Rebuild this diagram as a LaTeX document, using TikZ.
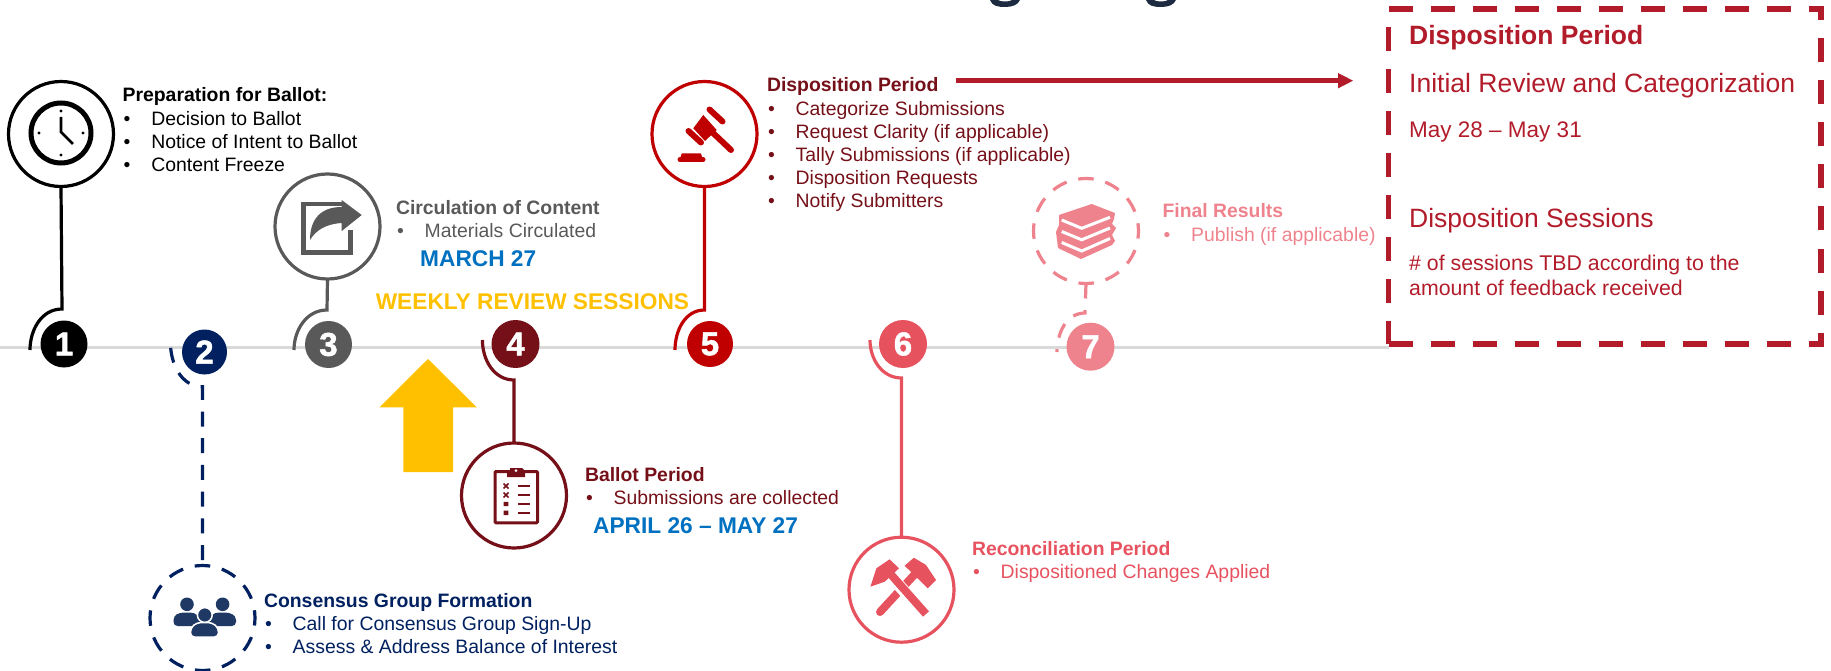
\documentclass[tikz,border=0pt]{standalone}
\usepackage{fontspec}
\setmainfont{Liberation Sans}
\newfontfamily\numfont[BoldFeatures={FakeBold=1.5}]{Liberation Sans}
\definecolor{cGray}{HTML}{595959}
\definecolor{cNavy}{HTML}{002060}
\definecolor{cIcon}{HTML}{1F3864}
\definecolor{cMaroon}{HTML}{751018}
\definecolor{cRed}{HTML}{C00000}
\definecolor{cRose}{HTML}{E7525F}
\definecolor{cPink}{HTML}{EE838D}
\definecolor{cBox}{HTML}{B21C2A}
\definecolor{cBlue}{HTML}{0070C0}
\definecolor{cGold}{HTML}{FFC000}
\definecolor{cRail}{HTML}{D9D9D9}
\definecolor{cTop}{HTML}{1C2B40}
\newcommand{\bodyfont}{\fontsize{19.4}{23.1}\selectfont}
\newcommand{\bul}[1]{\makebox[28.7pt][l]{\hspace{1pt}•}#1}
\newcommand{\blocktext}[1]{\begin{tabular}[t]{@{}l@{}}#1\end{tabular}}
\tikzset{
  bigcircle/.style={circle,draw=#1,line width=3.2pt,minimum size=105pt,inner sep=0pt,outer sep=0pt},
  dashring/.style={dash pattern=on 15.5pt off 12pt,dash phase=7.75pt},
  numcircle/.style={circle,fill=#1,text=white,minimum size=47pt,inner sep=0pt,outer sep=0pt,font=\fontsize{33}{33}\selectfont\numfont\bfseries},
  link/.style={draw=#1,line width=3.2pt},
  dashlink/.style={draw=#1,line width=3.2pt,dash pattern=on 15pt off 11.7pt},
  blocktxt/.style={anchor=base west,inner sep=0pt,outer sep=0pt,font=\bodyfont,text=#1},
  datetxt/.style={anchor=base west,inner sep=0pt,font=\fontsize{22.7}{25}\selectfont\bfseries,text=#1},
  paneltxt/.style={anchor=base west,inner sep=0pt,text=cBox},
}
\begin{document}
\begin{tikzpicture}[x=1pt,y=-1pt]
\useasboundingbox (0,0) rectangle (1831,671);

% cut-off glyph bottoms at the top edge
\fill[cTop] (990,0) .. controls (992,6) and (998,7) .. (1005,7) .. controls (1012,7) and (1018,5) .. (1020,0) -- (1012,0) .. controls (1010,2) and (1000,2) .. (998,0) -- cycle;
\fill[cTop] (1146,0) .. controls (1148,6) and (1154,7) .. (1161,7) .. controls (1168,7) and (1174,5) .. (1176,0) -- (1168,0) .. controls (1166,2) and (1156,2) .. (1154,0) -- cycle;

% rail
\coordinate (railA) at (0,347.5);
\coordinate (railB) at (1389,347.5);
\draw[cRail,line width=3.3pt] (railA) -- (railB);

% number nodes
\node[numcircle=black]  (n1) at (64,344) {1};
\node[numcircle=cNavy,minimum size=45pt]  (n2) at (204.5,352) {2};
\node[numcircle=cGray]  (n3) at (328.5,344.5) {3};
\node[numcircle=cMaroon,minimum size=48pt](n4) at (515.5,344) {4};
\node[numcircle=cRed,minimum size=46pt]   (n5) at (710,344) {5};
\node[numcircle=cRose,minimum size=48pt]  (n6) at (903,344) {6};
\node[numcircle=cPink,minimum size=48pt]  (n7) at (1090.5,346.7) {7};

% big circles
\node[bigcircle=black]   (b1) at (61,134) {};
\node[bigcircle=cNavy,dashring] (b2) at (202.5,618) {};
\node[bigcircle=cGray]   (b3) at (327.5,226.5) {};
\node[bigcircle=cMaroon] (b4) at (514,495.5) {};
\node[bigcircle=cRed]    (b5) at (704.5,134) {};
\node[bigcircle=cRose]   (b6) at (901.5,589.7) {};
\node[bigcircle=cPink,dashring] (b7) at (1086,231) {};

% joints
\coordinate (j1) at (62,309);   \coordinate (e1) at (30,350);
\coordinate (j2) at (202.5,386.7); \coordinate (e2) at (170.4,342);
\coordinate (j3) at (327,310);  \coordinate (e3) at (294,350);
\coordinate (j4) at (514,380);  \coordinate (e4) at (482.4,340);
\coordinate (j5) at (704.5,310);\coordinate (e5) at (675,350);
\coordinate (j6) at (901.5,378);\coordinate (e6) at (870,340);
\coordinate (j7) at (1085,313); \coordinate (e7) at (1057,352);

% connectors
\draw[link=black]   (b1.south) -- (j1) to[out=180,in=90] (e1);
\draw[dashlink=cNavy,dash phase=21.2pt] (b2.north) -- (j2) to[out=180,in=-90] (e2);
\draw[link=cGray]   (b3.south) -- (j3) to[out=180,in=90] (e3);
\draw[link=cMaroon] (b4.north) -- (j4) to[out=180,in=-90] (e4);
\draw[link=cRed]    (b5.south) -- (j5) to[out=180,in=90] (e5);
\draw[link=cRose]   (b6.north) -- (j6) to[out=180,in=-90] (e6);
\draw[dashlink=cPink] (b7.south) -- (j7) to[out=180,in=90] (e7);

% clock icon
\draw[black,line width=5pt] (61,133) circle[radius=30];
\fill[black] (61,111) circle[radius=1.6] (61,155) circle[radius=1.6] (39,133) circle[radius=1.6] (83,133) circle[radius=1.6];
\draw[black,line width=2.8pt] (61,117) -- (61,132) -- (73,144);

% share icon
\draw[cGray,line width=4.5pt] (343,204) -- (303.7,204) -- (303.7,252.7) -- (350.7,252.7) -- (350.7,230);
\fill[cGray] (361.7,215) -- (341.7,200) -- (341.7,207) .. controls (320,207) and (310,220) .. (310,240) .. controls (316,230) and (326,224) .. (341.7,223) -- (341.7,231) -- cycle;

% clipboard icon
\draw[cMaroon,line width=3pt,rounded corners=1pt] (495,471.5) rectangle (537.5,522.8);
\fill[cMaroon] (507,471) -- (510,471) -- (510,468) -- (522,468) -- (525,471) -- (525,477) -- (507,477) -- cycle;
\fill[white] (516,470.7) circle[radius=1.5];
\draw[cMaroon,line width=1.6pt] (503.5,483.5) -- (508.5,488.5) (503.5,488.5) -- (508.5,483.5)
  (503.5,492.5) -- (508.5,497.5) (503.5,497.5) -- (508.5,492.5);
\fill[cMaroon] (503.7,501.8) rectangle (508.3,506.2) (503.7,510.5) rectangle (508.3,515);
\draw[cMaroon,line width=2.2pt] (518,486) -- (530,486) (518,495) -- (530,495) (518,504) -- (530,504) (518,512.7) -- (530,512.7);

% gavel icon
\fill[cRed] (703.3,115) -- (716.7,130) -- (705,141) -- (693.3,128.3) -- cycle;
\draw[cRed,line width=6pt,line cap=round] (709.5,109.5) -- (722.5,121.5);
\draw[cRed,line width=6pt,line cap=round] (688.5,131) -- (701,142.5);
\draw[cRed,line width=6pt,line cap=round] (712,132) -- (731,150);
\fill[cRed] (681.7,153.5) -- (701,153.5) -- (702,157) -- (680.5,157) -- cycle;
\draw[cRed,line width=5pt,line cap=round] (680,159.5) -- (703,159.5);

% hammers icon
\draw[cRose,line width=8pt,line cap=round] (915,574) -- (880,612);
\fill[cRose,line join=round] (913.9,557.7) -- (926,565) -- (936,580) -- (927.8,588.3) -- (904.6,565.7) -- cycle;
\draw[white,line width=12pt] (889.6,575) -- (926,615);
\draw[cRose,line width=8pt] (889.6,573) -- (926,614);
\fill[cRose] (889.6,559.3) -- (899,568.3) -- (884.7,581.7) -- (870.4,586.7) -- (876.4,568.3) -- cycle;

% books icon
\fill[cPink] (1091.7,204) -- (1115,213) -- (1114,219) -- (1112,224) -- (1116,228) -- (1112,235) -- (1115,241) -- (1112,245) -- (1081,259) -- (1058,248) -- (1057,240) -- (1056,232) -- (1059,225) -- (1059,215) -- cycle;
\draw[white,line width=3pt] (1061.7,220) -- (1081.7,228.3) -- (1110,217.3);
\draw[white,line width=3pt] (1061.7,231.5) -- (1081.7,239.8) -- (1110,228);
\draw[white,line width=3pt] (1061.7,242.5) -- (1081.7,251) -- (1110,238.5);

% people icon
\fill[cIcon] (187,604.3) circle[radius=6.8] (222.6,604.3) circle[radius=6.8];
\fill[cIcon,rounded corners=4pt] (173.5,626) -- (173.5,616) -- (180,612.5) -- (194,612.5) -- (201,618) -- (201,626) -- cycle;
\fill[cIcon,rounded corners=4pt] (208,626) -- (208,618) -- (215,612.5) -- (229,612.5) -- (236,616) -- (236,626) -- cycle;
\fill[cIcon,draw=white,line width=1.5pt] (204.8,615) circle[radius=7.4];
\fill[cIcon,draw=white,line width=1.5pt,rounded corners=4pt] (190.5,637) -- (190.5,628) -- (197,622.5) -- (212,622.5) -- (218.5,628) -- (218.5,637) -- cycle;

% yellow arrow
\fill[cGold] (428,359) -- (476.8,407.3) -- (453,407.3) -- (453,472) -- (403.3,472) -- (403.3,407.3) -- (379.6,407.3) -- cycle;

% text blocks
\node[blocktxt=black] (t1) at (122.6,102) {\blocktext{\textbf{Preparation for Ballot:}\\\bul{Decision to Ballot}\\\bul{Notice of Intent to Ballot}\\\bul{Content Freeze}}};
\node[blocktxt=cNavy] (t2) at (264,607.7) {\blocktext{\textbf{Consensus Group Formation}\\\bul{Call for Consensus Group Sign-Up}\\\bul{Assess \& Address Balance of Interest}}};
\node[blocktxt=cGray] (t3) at (396,214.7) {\blocktext{\textbf{Circulation of Content}\\\bul{Materials Circulated}}};
\node[blocktxt=cMaroon] (t4) at (585,481) {\blocktext{\textbf{Ballot Period}\\\bul{Submissions are collected}}};
\node[blocktxt=cMaroon] (t5) at (767,92) {\blocktext{\textbf{Disposition Period}\\\bul{Categorize Submissions}\\\bul{Request Clarity (if applicable)}\\\bul{Tally Submissions (if applicable)}\\\bul{Disposition Requests}\\\bul{Notify Submitters}}};
\node[blocktxt=cRose] (t6) at (972,555.3) {\blocktext{\textbf{Reconciliation Period}\\\bul{Dispositioned Changes Applied}}};
\node[blocktxt=cPink] (t7) at (1162.5,218) {\blocktext{\textbf{Final Results}\\\bul{Publish (if applicable)}}};
\node[datetxt=cBlue] (d3) at (420,266.7) {MARCH 27};
\node[datetxt=cBlue] (d4) at (593,533.3) {APRIL 26 – MAY 27};
\node[datetxt=cGold] (wk) at (375.6,309) {WEEKLY REVIEW SESSIONS};

% panel
\node[draw=cBox,line width=5.3pt,dash pattern=on 24pt off 18pt,minimum width=432.5pt,minimum height=335pt,inner sep=0pt,outer sep=0pt,anchor=north west] (panel) at (1388.5,9) {};
\coordinate (arrowstart) at (956,80.7);
\coordinate (arrowend) at (1353,80.7);
\draw[cBox,line width=5pt] (arrowstart) -- (1340,80.7);
\fill[cBox] (arrowend) -- (1338,73) -- (1338,88.4) -- cycle;
\node[paneltxt,font=\fontsize{26.5}{30}\selectfont\bfseries] (p1) at (1409,45) {Disposition Period};
\node[paneltxt,font=\fontsize{26.5}{30}\selectfont] (p2) at (1409,92.7) {Initial Review and Categorization};
\node[paneltxt,font=\fontsize{22.5}{25}\selectfont] (p3) at (1409,137.3) {May 28 – May 31};
\node[paneltxt,font=\fontsize{26.5}{30}\selectfont] (p4) at (1409,227.7) {Disposition Sessions};
\node[paneltxt,font=\fontsize{21.3}{25}\selectfont] (p5) at (1409,270) {\blocktext{\# of sessions TBD according to the\\amount of feedback received}};
\end{tikzpicture}
\end{document}
